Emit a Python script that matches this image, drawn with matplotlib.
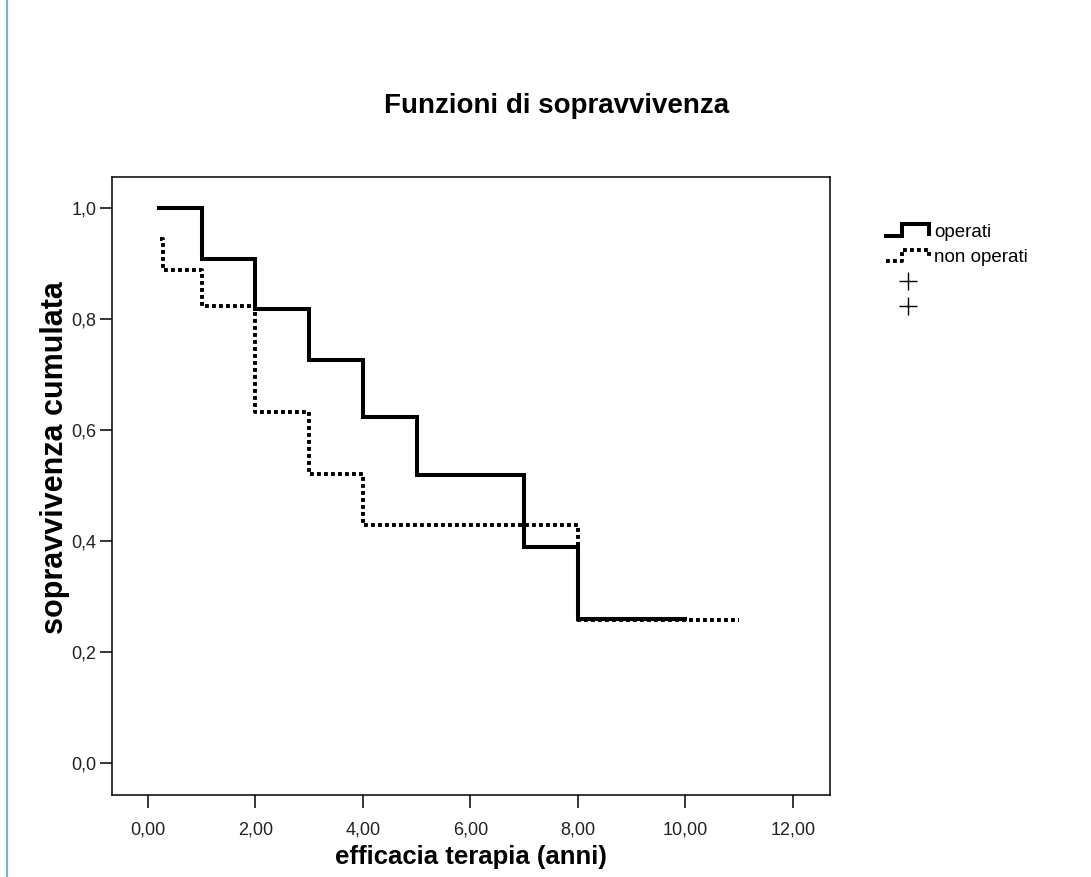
import matplotlib
matplotlib.use("Agg")
import matplotlib.pyplot as plt
from matplotlib.lines import Line2D
from matplotlib.legend_handler import HandlerBase
from matplotlib.ticker import FixedLocator, FuncFormatter

# ---- data ----
op_times = [0.2, 1, 2, 3, 4, 5, 7, 8, 10]
op_surv = [1.0, 0.909, 0.818, 0.727, 0.623, 0.519, 0.389, 0.259, 0.259]

non_times = [0.22, 0.27, 1, 2, 3, 4, 8, 11]
non_surv = [0.944, 0.889, 0.824, 0.633, 0.521, 0.428, 0.257, 0.257]

x_ticks = [0, 2, 4, 6, 8, 10, 12]
y_ticks = [0.0, 0.2, 0.4, 0.6, 0.8, 1.0]

title = "Funzioni di sopravvivenza"
xlabel = "efficacia terapia (anni)"
ylabel = "sopravvivenza cumulata"
labels = ["operati", "non operati", "", ""]

plt.rcParams['font.family'] = ['Liberation Sans', 'DejaVu Sans']

W, H = 1091, 877
fig = plt.figure(figsize=(W / 100, H / 100), dpi=100)
fig.patch.set_facecolor('white')

ax = fig.add_axes([112 / W, (H - 795) / H, 718 / W, 618 / H])
ax.set_xlim(-0.67, 12.69)
ax.set_ylim(-0.0577, 1.0559)

dotted = (0, (1, 0.8))
ax.step(op_times, op_surv, where='post', color='black', lw=2.9,
        solid_joinstyle='miter')
ax.step(non_times, non_surv, where='post', color='black', lw=2.8,
        linestyle=dotted)

ax.xaxis.set_major_locator(FixedLocator(x_ticks))
ax.yaxis.set_major_locator(FixedLocator(y_ticks))
ax.xaxis.set_major_formatter(FuncFormatter(lambda v, p: f"{v:.2f}".replace('.', ',')))
ax.yaxis.set_major_formatter(FuncFormatter(lambda v, p: f"{v:.1f}".replace('.', ',')))
ax.tick_params(axis='x', direction='out', length=9, width=1.1, pad=10,
               labelsize=13, labelcolor='#222222')
ax.tick_params(axis='y', direction='out', length=9, width=1.1, pad=2,
               labelsize=13, labelcolor='#222222')
for s in ax.spines.values():
    s.set_linewidth(1.1)

ax.set_xlabel(xlabel, fontsize=18.5, fontweight='bold')
ax.xaxis.set_label_coords(0.5, (795 - 857) / 618)
ax.xaxis.label.set_verticalalignment('center')
ax.set_ylabel(ylabel, fontsize=22, fontweight='bold')
ax.yaxis.set_label_coords((55 - 112) / 718, (795 - 458) / 618)
ax.yaxis.label.set_verticalalignment('center')

fig.text(557 / W, 1 - 113 / H, title, ha='center', va='baseline',
         fontsize=20, fontweight='bold')


class StepHandler(HandlerBase):
    def create_artists(self, legend, orig_handle, xdescent, ydescent,
                       width, height, fontsize, trans):
        x0 = -xdescent
        y0 = -ydescent
        xs = [x0, x0 + 0.38 * width, x0 + 0.38 * width, x0 + width, x0 + width]
        ys = [y0 + 0.0 * height, y0 + 0.0 * height, y0 + 1.0 * height,
              y0 + 1.0 * height, y0 + 0.2 * height]
        ln = Line2D(xs, ys, color='black', lw=orig_handle.get_linewidth(),
                    linestyle=orig_handle.get_linestyle(),
                    solid_joinstyle='miter', transform=trans)
        if orig_handle.get_linestyle() not in ('-', 'solid'):
            ln.set_dashes((1, 0.8))
        return [ln]


h_op = Line2D([], [], color='black', lw=2.9, linestyle='-')
h_non = Line2D([], [], color='black', lw=2.8, linestyle=':')
h_c1 = Line2D([], [], color='black', marker='+', linestyle='none',
              markersize=13, markeredgewidth=1.0)
h_c2 = Line2D([], [], color='black', marker='+', linestyle='none',
              markersize=13, markeredgewidth=1.0)

leg = fig.legend([h_op, h_non, h_c1, h_c2], labels,
                 loc='upper left', bbox_to_anchor=(886 / W, 1 - 224 / H),
                 bbox_transform=fig.transFigure, frameon=False,
                 fontsize=13.5, handlelength=2.3, handleheight=0.6,
                 handletextpad=0.25, labelspacing=0.43, borderpad=0,
                 borderaxespad=0,
                 handler_map={h_op: StepHandler(), h_non: StepHandler()})

# left border line of the screenshot
fig.add_artist(Line2D([7 / W, 7 / W], [0, 1], color='#7fb0d6', lw=1.6,
                      transform=fig.transFigure))

fig.savefig('out.png', dpi=100, facecolor='white')
